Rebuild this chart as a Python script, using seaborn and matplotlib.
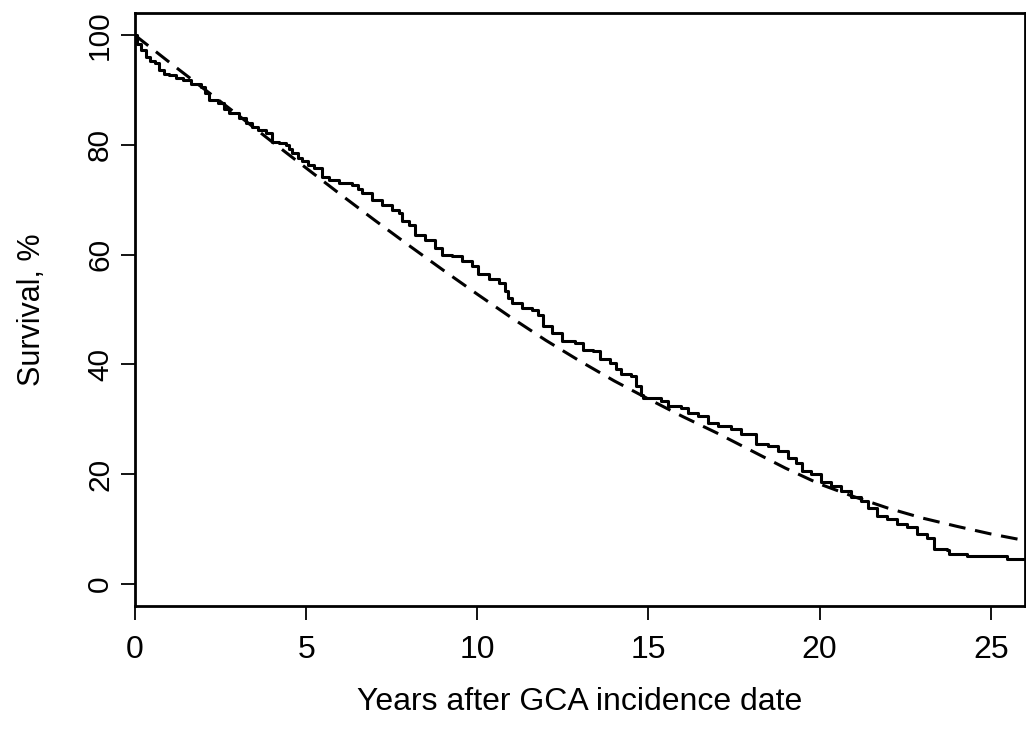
import matplotlib
matplotlib.use("Agg")
import matplotlib.pyplot as plt
import seaborn as sns
import pandas as pd

km_years = [0, 0.05, 0.18, 0.32, 0.45, 0.57, 0.71, 0.85, 1.0, 1.2, 1.39, 1.63, 1.93,
            2.05, 2.17, 2.41, 2.6, 2.75, 3.04, 3.25, 3.43, 3.6, 3.82, 4.01, 4.2, 4.4,
            4.5, 4.6, 4.75, 4.89, 5.05, 5.23, 5.47, 5.66, 5.96, 6.34, 6.5, 6.63, 6.93,
            7.22, 7.51, 7.7, 7.8, 8.0, 8.19, 8.48, 8.77, 8.97, 9.26, 9.55, 9.84, 10.03,
            10.33, 10.62, 10.81, 10.9, 11.0, 11.3, 11.59, 11.78, 11.93, 12.17, 12.46,
            12.85, 13.09, 13.39, 13.58, 13.87, 14.06, 14.21, 14.5, 14.65, 14.79, 14.84,
            15.38, 15.57, 15.96, 16.15, 16.44, 16.74, 17.03, 17.42, 17.71, 18.14, 18.48,
            18.78, 19.07, 19.31, 19.5, 19.75, 20.04, 20.33, 20.62, 20.91, 21.2, 21.4,
            21.69, 21.98, 22.27, 22.56, 22.85, 23.14, 23.34, 23.72, 23.77, 24.31, 25.48, 26]
km_surv = [100, 98.5, 97.3, 96.1, 95.4, 94.9, 93.6, 93.0, 92.7, 92.2, 91.8, 91.2, 90.6,
           89.5, 88.2, 87.6, 86.5, 85.8, 84.9, 84.0, 83.3, 82.7, 82.1, 80.6, 80.3, 80.0,
           79.2, 78.5, 77.7, 77.0, 76.4, 75.8, 74.2, 73.6, 73.0, 72.7, 72.0, 71.2, 70.0,
           69.1, 68.2, 67.6, 66.1, 65.5, 63.6, 62.7, 61.2, 60.0, 59.8, 58.8, 57.9, 56.4,
           55.5, 54.8, 53.3, 52.2, 51.2, 50.3, 50.0, 49.1, 47.0, 45.8, 44.2,
           43.9, 42.6, 42.4, 40.9, 40.3, 39.1, 38.2, 37.9, 36.1, 34.5, 33.9,
           33.3, 32.4, 32.1, 31.2, 30.6, 29.4, 28.8, 28.2, 27.3, 25.5, 25.1,
           24.2, 23.0, 22.1, 20.6, 20.0, 18.5, 17.9, 17.0, 15.9, 15.1, 13.9,
           12.4, 11.8, 10.9, 10.3, 9.1, 8.3, 6.4, 6.1, 5.45, 5.0, 4.5, 4.5]

# expected survival (dashed)
exp_years = list(range(0, 27))
exp_surv = [100, 95.1, 90.3, 85.5, 80.6, 75.8, 71.0, 66.3, 61.7, 57.2, 52.8, 48.5, 44.4,
            40.6, 37.0, 33.7, 30.5, 27.5, 24.3, 21.1, 18.2, 15.9, 13.8,
            12.0, 10.5, 9.1, 7.9]

km = pd.DataFrame({"years": km_years, "surv": km_surv})
expd = pd.DataFrame({"years": exp_years, "surv": exp_surv})

sns.set_style("white")
plt.rcParams["font.family"] = ["Liberation Sans", "DejaVu Sans"]

fig = plt.figure(figsize=(10.26, 7.29), dpi=100)
ax = fig.add_axes([0.1316, 0.169, 0.8674, 0.8127])

sns.lineplot(data=km, x="years", y="surv", ax=ax, color="black", lw=2.2,
             drawstyle="steps-post", estimator=None, sort=False)
sns.lineplot(data=expd, x="years", y="surv", ax=ax, color="black", lw=2.2,
             linestyle=(0, (5.5, 3.2)), estimator=None, sort=False)

ax.set_xlim(0, 26)
ax.set_ylim(-4, 104)
ax.set_xticks([0, 5, 10, 15, 20, 25])
ax.set_yticks([0, 20, 40, 60, 80, 100])

for s in ax.spines.values():
    s.set_visible(True)
    s.set_linewidth(2)
    s.set_color("black")

ax.tick_params(axis="both", direction="out", length=10, width=1.3, color="black",
               labelcolor="black", bottom=True, left=True)
ax.tick_params(axis="x", pad=11, labelsize=23)
ax.tick_params(axis="y", pad=5, labelsize=21.5, labelrotation=90)
for lab in ax.get_yticklabels():
    lab.set_va("center")

ax.set_xlabel("Years after GCA incidence date", fontsize=23, labelpad=16, color="black")
ax.set_ylabel("Survival, %", fontsize=22, labelpad=28, color="black")

fig.savefig("out.png", dpi=100)
